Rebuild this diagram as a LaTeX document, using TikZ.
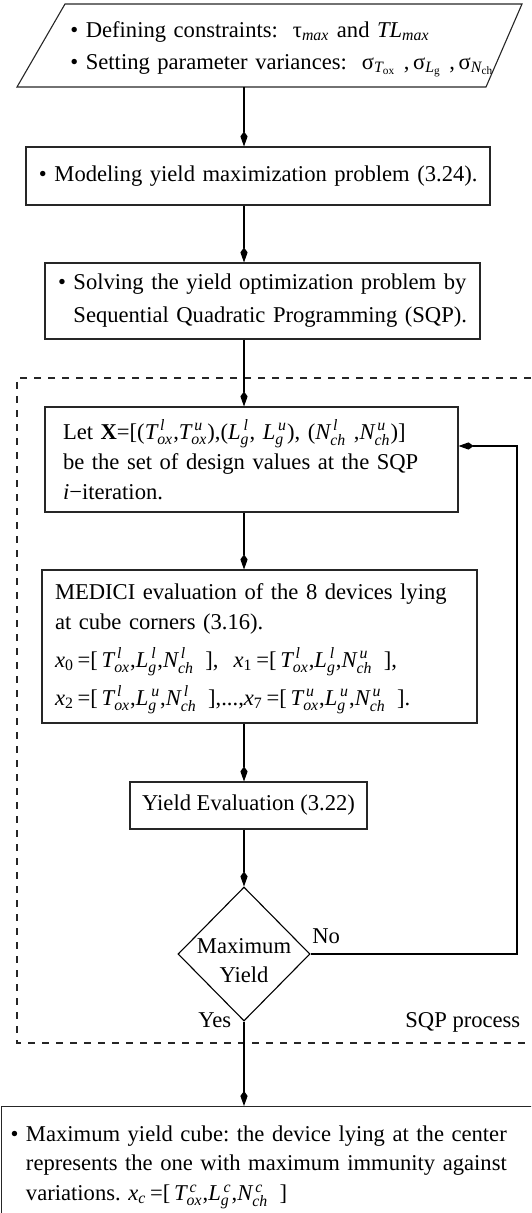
\documentclass[tikz,border=0pt]{standalone}
\usepackage{amsmath}
\usepackage{calc}
\usepackage{fontspec}
\setmainfont{Liberation Serif}
\usetikzlibrary{arrows.meta,shapes.geometric}
\frenchspacing
\newcommand\ti[1]{\textit{#1}}
\newcommand\vr[3]{\ensuremath{\textit{#1}^{\,\textit{#3}}_{\textit{#2}}}}
\newcommand\bsp{\hspace*{\widthof{• }}}
\begin{document}
\begin{tikzpicture}[x=0.5pt,y=-0.5pt,
  base/.style={font=\fontsize{11.3}{15}\selectfont},
  box/.style={base, draw=black!85, line width=0.55pt, rectangle, align=left, inner ysep=0pt},
  conn/.style={line width=0.55pt, -{Kite[length=7.5pt,width=3.6pt,inset=2.5pt]}},
  lbl/.style={base, inner sep=0pt, anchor=base west},
  frame/.style={line width=0.55pt, black!85, dash pattern=on 3.5pt off 3.5pt}]
\useasboundingbox (0,0) rectangle (531,1213);
\clip (0,0) rectangle (531,1213);
\coordinate (cx) at (244,0);
\coordinate (fb) at (517,446);

% input parallelogram
\coordinate (ptl) at (65,4);
\coordinate (ptr) at (522,4);
\coordinate (pbr) at (486,87);
\coordinate (pbl) at (17,87);
\coordinate (pb) at (244,87);
\draw[draw=black!85, line width=0.55pt] (ptl) -- (ptr) -- (pbr) -- (pbl) -- cycle;
\node[base, inner sep=0pt, text width=402pt/2, align=left, anchor=west] (p1) at (70,49)
  {\mbox{• Defining constraints:~~τ$_{\ti{max}}$ and \ti{TL}$_{\ti{max}}$}\\[1pt]
   \mbox{• Setting parameter variances:~~σ$_{\ti{T}_{\text{ox}}}$ ,\,σ$_{\ti{L}_{\text{g}}}$ ,\,σ$_{\ti{N}_{\text{ch}}}$}};

\node[box, inner xsep=6.5pt, text width=219pt, minimum height=29pt] (b2) at (258,176)
  {\mbox{• Modeling yield maximization problem (3.24).}};

\node[box, inner xsep=6.5pt, text width=204.5pt, minimum height=38pt] (b3) at (262.5,301)
  {\mbox{• Solving the yield optimization problem by}\\[1.5pt]
   \mbox{\bsp Sequential Quadratic Programming (SQP).}};

\node[box, inner xsep=9pt, text width=188.5pt, minimum height=52.5pt] (b4) at (251.5,459.5)
  {\mbox{Let \textbf{X}=[(\vr{T}{ox}{l},\vr{T}{ox}{u}),(\vr{L}{g}{l}, \vr{L}{g}{u}), (\vr{N}{ch}{l} ,\vr{N}{ch}{u})]}\\
   \mbox{be the set of design values at the SQP}\\
   \mbox{\ti{i}−iteration.}};

\node[box, inner xsep=6.5pt, text width=204.5pt, minimum height=76.5pt] (b5) at (259.5,646.5)
  {\rule{0pt}{10pt}\mbox{MEDICI evaluation of the 8 devices lying}\\
   \mbox{at cube corners (3.16).}\\[4pt]
   \mbox{$\ti{x}_{\text{0}}$\,=[\,\vr{T}{ox}{l},\vr{L}{g}{l},\vr{N}{ch}{l}\, ],~~$\ti{x}_{\text{1}}$\,=[\,\vr{T}{ox}{l},\vr{L}{g}{l},\vr{N}{ch}{u}\, ],}\\[4pt]
   \mbox{$\ti{x}_{\text{2}}$\,=[\,\vr{T}{ox}{l},\vr{L}{g}{u},\vr{N}{ch}{l}\, ],...,$\ti{x}_{\text{7}}$\,=[\,\vr{T}{ox}{u},\vr{L}{g}{u},\vr{N}{ch}{u}\, ].}};

\node[box, align=center, minimum width=118.5pt, minimum height=23.5pt, inner xsep=0pt] (b6) at (248.5,805.5)
  {Yield Evaluation (3.22)};

\node[base, draw=black, line width=0.55pt, diamond, minimum width=66pt, minimum height=67pt,
  inner sep=0pt] (d) at (244,954)
  {\raisebox{0.5pt}[0pt][0pt]{\begin{tabular}[t]{@{}c@{}}Maximum\\[-0.5pt]Yield\end{tabular}}};

\node[box, anchor=north west, inner xsep=4.5pt, text width=260.5pt, minimum height=61pt] (b7) at (1,1106)
  {\mbox{• Maximum yield cube: the device lying at the center}\\[-0.5pt]
   \mbox{\bsp represents the one with maximum immunity against}\\
   \mbox{\bsp variations. $\ti{x}_{\ti{c}}$\,=[\,\vr{T}{ox}{c},\vr{L}{g}{c},\vr{N}{ch}{c}\, ]}};

\draw[frame] (545,378) -- (17,378) -- (17,1043) -- (545,1043);

\draw[conn] (pb) -- (b2.north -| cx);
\draw[conn] (b2.south -| cx) -- (b3.north -| cx);
\draw[conn] (b3.south -| cx) -- (b4.north -| cx);
\draw[conn] (b4.south -| cx) -- (b5.north -| cx);
\draw[conn] (b5.south -| cx) -- (b6.north -| cx);
\draw[conn] (b6.south -| cx) -- (d.north);
\draw[conn] (d.south) -- (b7.north -| cx);
\draw[conn] (d.east) -- (d.east -| fb) -- (fb) -- (b4.east |- fb);

\node[lbl] (no) at (312,943) {No};
\node[lbl] (yes) at (198,1027) {Yes};
\node[lbl] (sqp) at (405,1027) {SQP process};
\end{tikzpicture}
\end{document}
